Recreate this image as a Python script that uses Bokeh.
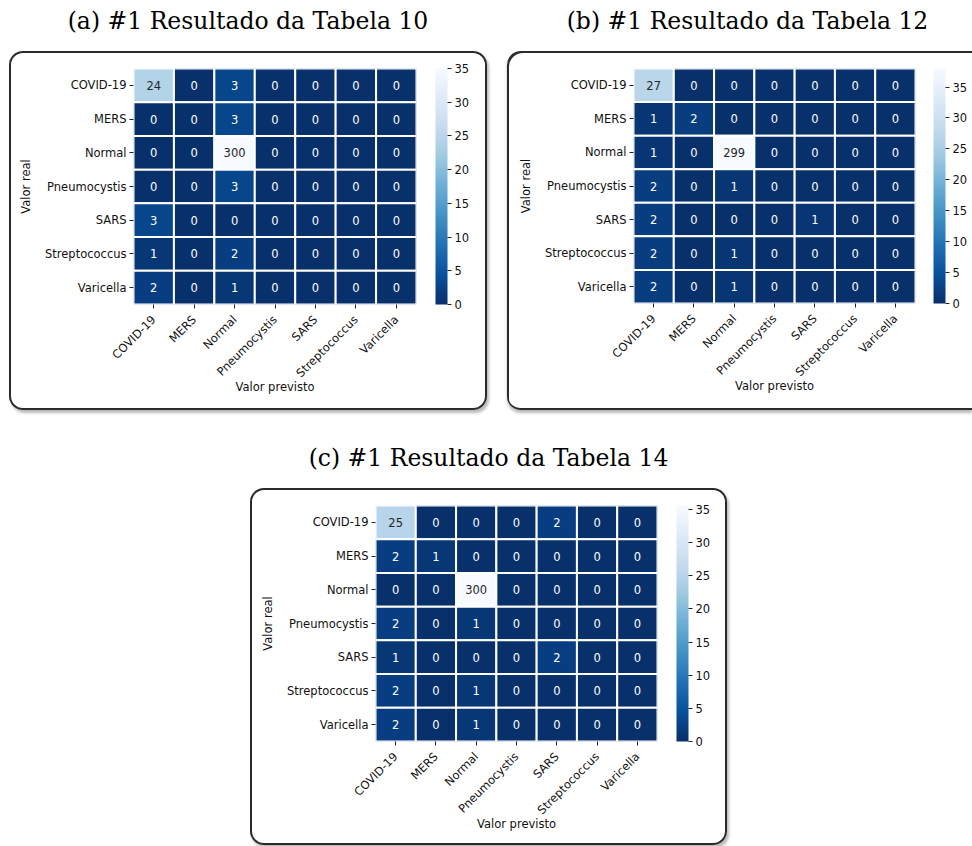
import numpy as np
from bokeh.plotting import figure
from bokeh.models import (ColumnDataSource, LinearColorMapper, ColorBar, FixedTicker,
                          Div, Spacer, InlineStyleSheet)
from bokeh.layouts import row, column
from bokeh.palettes import Blues256
from bokeh.core.properties import value
from bokeh.embed import file_html
from bokeh.resources import INLINE

classes = ["COVID-19", "MERS", "Normal", "Pneumocystis", "SARS", "Streptococcus", "Varicella"]

title_a = "(a) #1 Resultado da Tabela 10"
title_b = "(b) #1 Resultado da Tabela 12"
title_c = "(c) #1 Resultado da Tabela 14"

cm_a = [[24, 0, 3, 0, 0, 0, 0],
        [0, 0, 3, 0, 0, 0, 0],
        [0, 0, 300, 0, 0, 0, 0],
        [0, 0, 3, 0, 0, 0, 0],
        [3, 0, 0, 0, 0, 0, 0],
        [1, 0, 2, 0, 0, 0, 0],
        [2, 0, 1, 0, 0, 0, 0]]

cm_b = [[27, 0, 0, 0, 0, 0, 0],
        [1, 2, 0, 0, 0, 0, 0],
        [1, 0, 299, 0, 0, 0, 0],
        [2, 0, 1, 0, 0, 0, 0],
        [2, 0, 0, 0, 1, 0, 0],
        [2, 0, 1, 0, 0, 0, 0],
        [2, 0, 1, 0, 0, 0, 0]]

cm_c = [[25, 0, 0, 0, 2, 0, 0],
        [2, 1, 0, 0, 0, 0, 0],
        [0, 0, 300, 0, 0, 0, 0],
        [2, 0, 1, 0, 0, 0, 0],
        [1, 0, 0, 0, 2, 0, 0],
        [2, 0, 1, 0, 0, 0, 0],
        [2, 0, 1, 0, 0, 0, 0]]

vmax_a = 35.0
vmax_b = 38.0
vmax_c = 35.6
cb_ticks = [0, 5, 10, 15, 20, 25, 30, 35]

FONT = "DejaVu Sans"

BOX_FULL = (":host { border-radius: 14px; "
            "box-shadow: inset 0 0 0 2px #2b2b2b, 2px 3px 3px rgba(0,0,0,0.28); }")
BOX_OPEN = (":host { border-radius: 14px 0 0 14px; "
            "box-shadow: inset 2px 2px 0 0 #2b2b2b, inset 0 -2px 0 0 #2b2b2b, "
            "0 3px 3px rgba(0,0,0,0.28); }")


def make_panel(cm, vmax, width, height, fl, ft, fw, fh, cb_off, css):
    p = figure(width=width, height=height, x_range=classes, y_range=classes[::-1],
               output_backend="svg", toolbar_location=None, tools="",
               min_border_left=fl, min_border_right=width - fl - fw,
               min_border_top=ft, min_border_bottom=height - ft - fh,
               stylesheets=[InlineStyleSheet(css=css)])
    p.outline_line_color = None
    p.grid.grid_line_color = None
    p.background_fill_color = None
    p.border_fill_color = None

    xs, ys, vs, labs, tcs = [], [], [], [], []
    for i, r in enumerate(classes):
        for j, c in enumerate(classes):
            v = cm[i][j]
            xs.append(c)
            ys.append(r)
            vs.append(v)
            labs.append(str(v))
            tcs.append("#262626" if v / vmax > 0.55 else "white")
    src = ColumnDataSource(dict(x=xs, y=ys, v=vs, label=labs, tc=tcs))
    mapper = LinearColorMapper(palette=Blues256, low=0, high=vmax)
    p.rect(x="x", y="y", width=1, height=1, source=src,
           fill_color={"field": "v", "transform": mapper},
           line_color="white", line_width=2)
    p.text(x="x", y="y", text="label", text_color="tc", source=src,
           text_align="center", text_baseline="middle",
           text_font=value(FONT), text_font_size="11.5px")

    for ax in (p.xaxis[0], p.yaxis[0]):
        ax.axis_line_color = None
        ax.major_tick_in = 0
        ax.major_tick_out = 4
        ax.major_tick_line_color = "#222222"
        ax.major_label_text_font = FONT
        ax.major_label_text_font_size = "11.5px"
        ax.major_label_text_color = "#111111"
        ax.axis_label_text_font = FONT
        ax.axis_label_text_font_size = "11.5px"
        ax.axis_label_text_font_style = "normal"
        ax.axis_label_text_color = "#111111"
    p.yaxis.major_label_standoff = 3
    p.xaxis.major_label_standoff = 9
    p.xaxis.major_label_orientation = np.pi / 4
    p.xaxis.axis_label = "Valor previsto"
    p.yaxis.axis_label = "Valor real"
    p.xaxis.axis_label_standoff = -8
    p.yaxis.axis_label_standoff = 9

    cb = ColorBar(color_mapper=mapper, ticker=FixedTicker(ticks=cb_ticks),
                  width=12, height=fh, margin=0, padding=0,
                  major_tick_in=0, major_tick_out=4, major_tick_line_color="#222222",
                  bar_line_color=None, background_fill_color=None,
                  border_line_color=None, label_standoff=3,
                  major_label_text_font=FONT, major_label_text_font_size="11.5px",
                  major_label_text_color="#111111", location=(cb_off, 0))
    p.add_layout(cb, "right")
    return p


def make_title(text, width, indent=0):
    return Div(text=text, width=width, height=51, margin=0,
               styles={"font-family": "DejaVu Serif", "font-size": "23.5px",
                       "line-height": "42px", "text-align": "center",
                       "color": "black", "text-indent": f"{indent}px",
                       "white-space": "nowrap"})


pa = make_panel(cm_a, vmax_a, 478, 359, 124, 17, 283, 236, 19, BOX_FULL)
pb = make_panel(cm_b, vmax_b, 465, 359, 126, 17, 282, 235, 18, BOX_OPEN)
pc = make_panel(cm_c, vmax_c, 477, 357, 125, 17, 282, 236, 19, BOX_FULL)

ta = make_title(title_a, 478)
tb = make_title(title_b, 465, indent=16)
tc = make_title(title_c, 477)

top = row(Spacer(width=9, height=410), column(ta, pa), Spacer(width=20, height=410),
          column(tb, pb))
bottom = row(Spacer(width=250, height=435),
             column(Spacer(width=477, height=27), tc, pc))
layout = column(top, bottom)

open("out.html", "w").write(file_html(layout, INLINE))
